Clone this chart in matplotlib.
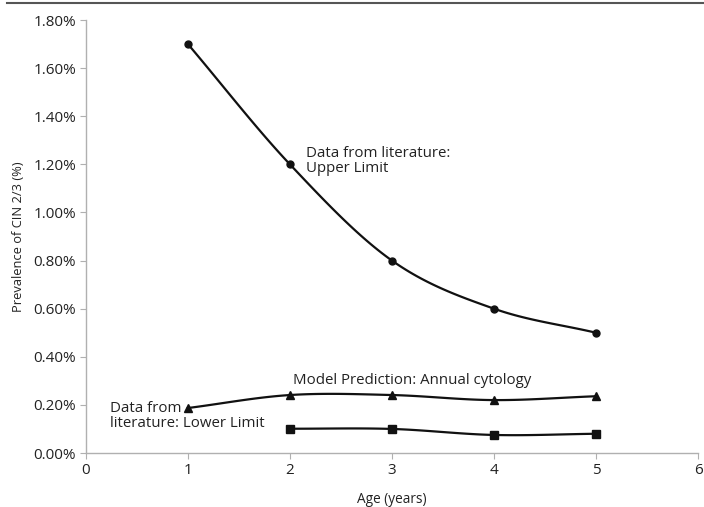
import numpy as np
import matplotlib
matplotlib.use("Agg")
import matplotlib.pyplot as plt
from matplotlib.ticker import FuncFormatter

plt.rcParams['font.family'] = ['Open Sans', 'DejaVu Sans']

# data
age_upper = [1, 2, 3, 4, 5]
upper_limit = [1.70, 1.20, 0.80, 0.60, 0.50]

age_model = [1, 2, 3, 4, 5]
model_pred = [0.187, 0.241, 0.241, 0.220, 0.236]

age_lower = [2, 3, 4, 5]
lower_limit = [0.101, 0.100, 0.075, 0.080]

x_ticks = [0, 1, 2, 3, 4, 5, 6]
y_ticks = [0.0, 0.2, 0.4, 0.6, 0.8, 1.0, 1.2, 1.4, 1.6, 1.8]


def smooth(xs, ys, n=30):
    # Catmull-Rom path through the points (like a spreadsheet "smoothed line")
    xs = np.asarray(xs, float)
    ys = np.asarray(ys, float)
    px = np.concatenate([[2 * xs[0] - xs[1]], xs, [2 * xs[-1] - xs[-2]]])
    py = np.concatenate([[2 * ys[0] - ys[1]], ys, [2 * ys[-1] - ys[-2]]])
    out_x, out_y = [], []
    t = np.linspace(0, 1, n)
    for i in range(1, len(px) - 2):
        for arr, out in ((px, out_x), (py, out_y)):
            p0, p1, p2, p3 = arr[i - 1], arr[i], arr[i + 1], arr[i + 2]
            out.extend(0.5 * (2 * p1 + (-p0 + p2) * t
                              + (2 * p0 - 5 * p1 + 4 * p2 - p3) * t ** 2
                              + (-p0 + 3 * p1 - 3 * p2 + p3) * t ** 3))
    return out_x, out_y


fig = plt.figure(figsize=(7.04, 5.07), dpi=100)
ax = fig.add_axes([0.122, 0.1065, 0.8695, 0.854])

for xs, ys, mk, ms in ((age_upper, upper_limit, 'o', 5),
                       (age_model, model_pred, '^', 5.5),
                       (age_lower, lower_limit, 's', 6)):
    sx, sy = smooth(xs, ys)
    ax.plot(sx, sy, color='#111111', lw=1.6)
    ax.plot(xs, ys, linestyle='none', marker=mk, ms=ms, color='#111111')

ax.set_xlim(0, 6)
ax.set_ylim(0, 1.8)
ax.set_xticks(x_ticks)
ax.set_yticks(y_ticks)
ax.yaxis.set_major_formatter(FuncFormatter(lambda v, p: f"{v:.2f}%"))

for s in ('top', 'right'):
    ax.spines[s].set_visible(False)
for s in ('left', 'bottom'):
    ax.spines[s].set_color('#b0b0b0')
    ax.spines[s].set_linewidth(1.0)
ax.tick_params(direction='out', length=4, color='#b0b0b0', labelsize=11,
               labelcolor='#222222', pad=3)

ax.set_xlabel('Age (years)', fontsize=9.8, color='#222222', labelpad=10)
ax.set_ylabel('Prevalence of CIN 2/3 (%)', fontsize=9.3, color='#222222', labelpad=6)

ax.text(2.16, 1.215, 'Data from literature:\nUpper Limit', fontsize=10.8,
        color='#222222', va='center', ha='left', linespacing=1.0)
ax.text(2.03, 0.30, 'Model Prediction: Annual cytology', fontsize=10.8,
        color='#222222', va='center', ha='left')
ax.text(0.235, 0.154, 'Data from\nliterature: Lower Limit', fontsize=10.8,
        color='#222222', va='center', ha='left', linespacing=1.0)

# rule across the top of the figure
fig.add_artist(plt.Line2D([0.01, 1.0], [0.995, 0.995], color='#555555', lw=1.5))

fig.savefig('out.png', dpi=100)
